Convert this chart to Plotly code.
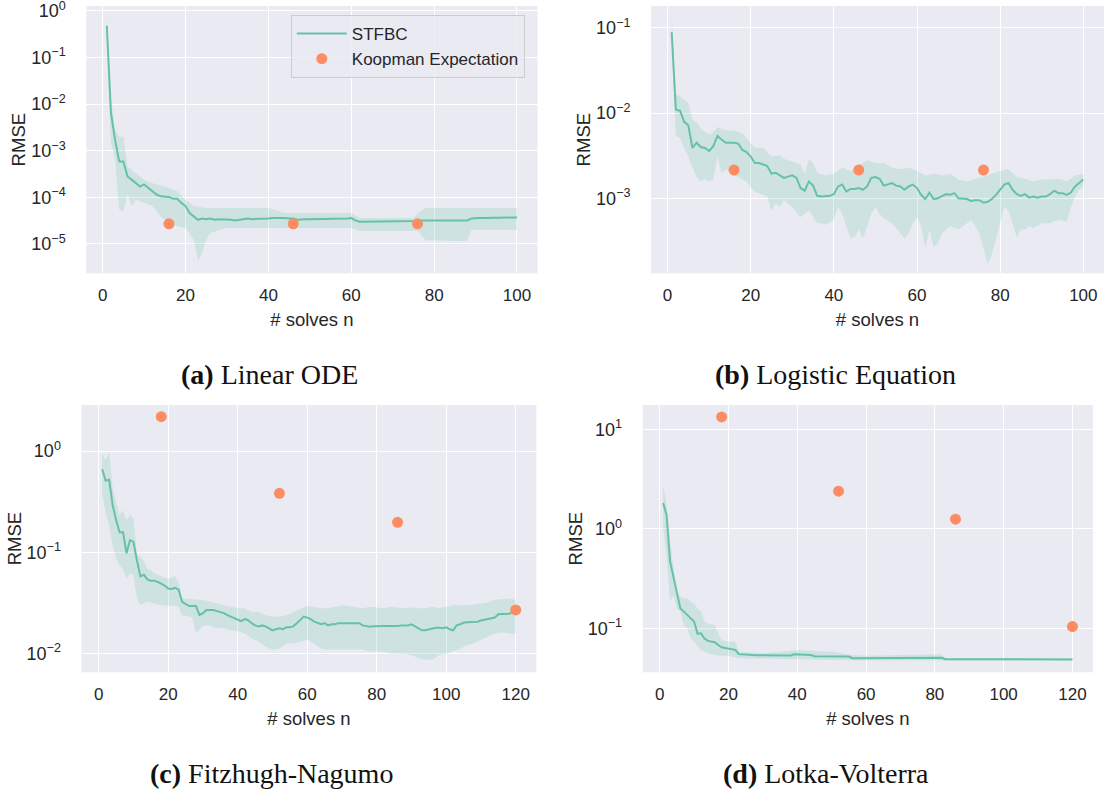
import plotly.graph_objects as go

# ---------------- data ----------------
a_x = list(range(1, 101))
a_line = [0.48, 6.5e-3, 1.7e-3, 5.9e-4, 5.9e-4, 2.8e-4, 2.4e-4, 2.0e-4, 1.7e-4, 1.9e-4,
          1.6e-4, 1.35e-4, 1.15e-4, 1.05e-4, 1.02e-4, 1.02e-4, 9.3e-5, 9.3e-5, 7.6e-5, 6.5e-5,
          4.6e-5, 3.9e-5, 3.3e-5, 3.5e-5, 3.4e-5, 3.5e-5, 3.3e-5, 3.4e-5, 3.4e-5, 3.4e-5,
          3.3e-5, 3.2e-5, 3.3e-5, 3.4e-5, 3.5e-5, 3.4e-5, 3.4e-5, 3.5e-5, 3.5e-5, 3.5e-5,
          3.6e-5, 3.6e-5, 3.7e-5, 3.6e-5, 3.5e-5, 3.5e-5, 3.3e-5, 3.4e-5, 3.4e-5, 3.4e-5,
          3.4e-5, 3.4e-5, 3.4e-5, 3.4e-5, 3.4e-5, 3.4e-5, 3.5e-5, 3.5e-5, 3.5e-5, 3.6e-5,
          3.2e-5, 3.0e-5, 3.0e-5, 3.0e-5, 3.0e-5, 3.1e-5, 3.1e-5, 3.1e-5, 3.0e-5, 3.0e-5,
          3.1e-5, 3.0e-5, 3.0e-5, 3.0e-5, 3.0e-5, 3.1e-5, 3.2e-5, 3.2e-5, 3.2e-5, 3.2e-5,
          3.1e-5, 3.1e-5, 3.1e-5, 3.1e-5, 3.1e-5, 3.1e-5, 3.1e-5, 3.2e-5, 3.5e-5, 3.6e-5,
          3.6e-5, 3.6e-5, 3.6e-5, 3.6e-5, 3.7e-5, 3.7e-5, 3.7e-5, 3.7e-5, 3.7e-5, 3.7e-5]
a_up_x = [1, 2, 3, 4, 5, 6, 8, 10, 12, 15, 18, 20, 22, 25, 30, 35, 40, 44, 50, 55,
          60, 62, 70, 75, 76, 78, 85, 90, 95, 100]
a_up = [0.76, 1.3e-2, 2.8e-3, 2.0e-3, 2.0e-3, 4.6e-4, 3.3e-4, 2.4e-4, 2.0e-4, 1.7e-4,
        1.35e-4, 8.9e-5, 6.5e-5, 5.9e-5, 5.9e-5, 5.9e-5, 5.9e-5, 4.6e-5, 4.6e-5, 4.6e-5,
        4.6e-5, 3.6e-5, 3.6e-5, 3.6e-5, 4.6e-5, 5.9e-5, 5.9e-5, 5.9e-5, 5.9e-5, 5.9e-5]
a_lo_x = [1, 2, 3, 4, 5, 6, 7, 8, 10, 12, 14, 16, 18, 20, 22, 23, 24, 25, 26, 28,
          30, 40, 50, 60, 62, 70, 76, 78, 85, 88, 89, 95, 100]
a_lo = [0.24, 1.45e-3, 6.5e-4, 5.5e-5, 5.0e-5, 1.2e-4, 6.5e-5, 8.9e-5, 7.6e-5, 6.5e-5,
        3.9e-5, 2.8e-5, 2.4e-5, 2.2e-5, 1.23e-5, 4.3e-6, 6.5e-6, 1.23e-5, 1.7e-5, 2.0e-5,
        2.2e-5, 2.2e-5, 2.2e-5, 2.2e-5, 1.9e-5, 1.9e-5, 1.9e-5, 1.2e-5, 1.15e-5, 1.15e-5,
        2.0e-5, 2.0e-5, 2.0e-5]
a_koop_x = [16, 46, 76]
a_koop = [2.7e-5, 2.7e-5, 2.7e-5]

b_x = list(range(1, 101))
b_line = [0.089, 0.011, 0.0107, 0.0079, 0.0072, 0.0039, 0.0045, 0.0040, 0.0039, 0.0036,
          0.0041, 0.0054, 0.0049, 0.0045, 0.0045, 0.0045, 0.0044, 0.0037, 0.0035, 0.0031,
          0.0026, 0.0026, 0.0025, 0.0024, 0.00195, 0.0020, 0.00186, 0.00174, 0.0018, 0.00186,
          0.00174, 0.00132, 0.00123, 0.00158, 0.00141, 0.00107, 0.00105, 0.00105, 0.00107, 0.00112,
          0.00138, 0.00145, 0.0012, 0.00129, 0.00129, 0.00132, 0.00126, 0.00138, 0.00174, 0.00178,
          0.0017, 0.00141, 0.00145, 0.00151, 0.00141, 0.00138, 0.00126, 0.00138, 0.00145, 0.00132,
          0.0011, 0.00098, 0.00117, 0.00098, 0.001, 0.00105, 0.00112, 0.0011, 0.00115, 0.001,
          0.001, 0.00098, 0.00093, 0.00095, 0.00095, 0.00089, 0.00091, 0.00098, 0.0011, 0.00126,
          0.00145, 0.00151, 0.00126, 0.00112, 0.00107, 0.00112, 0.00102, 0.00105, 0.00102, 0.00105,
          0.00105, 0.00112, 0.00123, 0.00115, 0.00115, 0.0011, 0.00117, 0.00138, 0.00151, 0.00166]
b_up_x = [1, 2, 3, 4, 5, 6, 7, 8, 9, 10, 11, 12, 13, 14, 15, 16, 17, 18, 19, 20,
          21, 22, 23, 24, 25, 27, 28, 30, 32, 33, 34, 35, 36, 38, 40, 41, 42, 44, 46, 47,
          48, 50, 52, 54, 56, 58, 60, 62, 64, 66, 68, 70, 72, 74, 76, 78, 80, 82, 84, 86,
          88, 90, 92, 94, 96, 98, 100]
b_up = [0.138, 0.0166, 0.0158, 0.0144, 0.0132, 0.0083, 0.0078, 0.0066, 0.006, 0.0056,
        0.006, 0.0069, 0.0065, 0.0063, 0.0062, 0.0063, 0.006, 0.0058, 0.0051, 0.0045,
        0.0039, 0.0039, 0.0039, 0.0035, 0.0031, 0.0032, 0.0029, 0.0027, 0.0025, 0.00195,
        0.0029, 0.0026, 0.002, 0.00186, 0.00195, 0.0021, 0.0023, 0.0021, 0.0025, 0.0026,
        0.0028, 0.0026, 0.0026, 0.0023, 0.0022, 0.0023, 0.0021, 0.00186, 0.00195, 0.00186,
        0.00195, 0.00166, 0.00158, 0.0017, 0.00178, 0.00195, 0.0021, 0.0022, 0.00178, 0.0017,
        0.00158, 0.00166, 0.00166, 0.0017, 0.00158, 0.00186, 0.00195]
b_lo_x = [1, 2, 3, 4, 5, 6, 7, 8, 9, 10, 11, 12, 13, 14, 15, 16, 17, 18, 19, 20,
          21, 22, 24, 25, 26, 27, 28, 30, 32, 33, 34, 35, 36, 37, 38, 40, 41, 42, 43, 44,
          45, 46, 47, 48, 49, 50, 51, 52, 54, 56, 57, 58, 59, 60, 61, 62, 63, 64, 65, 66,
          67, 68, 70, 72, 73, 74, 75, 76, 77, 78, 79, 80, 81, 82, 83, 84, 85, 86, 87, 88,
          90, 92, 94, 96, 97, 98, 99, 100]
b_lo = [0.07, 0.0054, 0.0051, 0.0039, 0.0031, 0.0023, 0.00178, 0.00158, 0.00166, 0.00158,
        0.00166, 0.0031, 0.00195, 0.0022, 0.0021, 0.00186, 0.00178, 0.00166, 0.00158, 0.00132,
        0.0012, 0.00115, 0.00105, 0.00072, 0.00087, 0.00079, 0.00095, 0.00079, 0.0006, 0.00066,
        0.00072, 0.0006, 0.00051, 0.00051, 0.00049, 0.00056, 0.00079, 0.00066, 0.00047, 0.00034,
        0.00035, 0.00043, 0.00034, 0.00047, 0.00066, 0.00079, 0.00066, 0.00058, 0.00051, 0.00039,
        0.00034, 0.00039, 0.00051, 0.0006, 0.00047, 0.00026, 0.00043, 0.00027, 0.0003, 0.00039,
        0.00043, 0.00047, 0.00043, 0.00051, 0.00056, 0.00047, 0.00039, 0.00025, 0.00017, 0.00022,
        0.00032, 0.00051, 0.00079, 0.00072, 0.00051, 0.00035, 0.00043, 0.00043, 0.00047, 0.00045,
        0.00051, 0.00051, 0.00056, 0.00053, 0.00079, 0.00105, 0.00126, 0.00138]
b_koop_x = [16, 46, 76]
b_koop = [2.15e-3, 2.15e-3, 2.15e-3]

c_x = list(range(1, 121))
c_line = [0.66, 0.51, 0.52, 0.295, 0.21, 0.158, 0.158, 0.098, 0.132, 0.127,
          0.083, 0.058, 0.060, 0.054, 0.0525, 0.0525, 0.051, 0.049, 0.047, 0.044,
          0.0435, 0.0447, 0.0427, 0.0324, 0.031, 0.0295, 0.0295, 0.0295, 0.024, 0.0251,
          0.0269, 0.0268, 0.0269, 0.0263, 0.0257, 0.0251, 0.024, 0.0232, 0.0224, 0.0214,
          0.0209, 0.0219, 0.0214, 0.020, 0.019, 0.0186, 0.019, 0.0186, 0.0178, 0.017,
          0.0174, 0.0178, 0.0174, 0.0182, 0.0182, 0.0186, 0.020, 0.0214, 0.0232, 0.0227,
          0.0219, 0.0207, 0.020, 0.0195, 0.020, 0.019, 0.0195, 0.0195, 0.020, 0.020,
          0.0201, 0.0202, 0.020, 0.0199, 0.020, 0.019, 0.0186, 0.0184, 0.0186, 0.0187,
          0.0187, 0.0186, 0.0187, 0.0187, 0.0186, 0.0187, 0.019, 0.019, 0.019, 0.0195,
          0.0185, 0.0178, 0.017, 0.017, 0.0174, 0.0178, 0.018, 0.018, 0.0178, 0.0182,
          0.0174, 0.017, 0.019, 0.0195, 0.0202, 0.0204, 0.0204, 0.0207, 0.0207, 0.0212,
          0.0215, 0.0219, 0.022, 0.0227, 0.0245, 0.0246, 0.0248, 0.0248, 0.0254, 0.0257]
c_up_x = [1, 2, 3, 4, 5, 6, 7, 8, 9, 10, 11, 12, 13, 14, 15, 16, 18, 20, 22, 23,
          24, 26, 28, 30, 32, 34, 36, 38, 40, 42, 44, 46, 48, 50, 52, 54, 56, 58, 60, 62,
          64, 66, 68, 70, 72, 74, 76, 78, 80, 82, 84, 86, 88, 90, 92, 94, 96, 98, 100, 102,
          104, 106, 108, 110, 112, 114, 116, 118, 120]
c_up = [0.95, 0.81, 0.97, 0.43, 0.316, 0.234, 0.26, 0.209, 0.234, 0.218,
        0.094, 0.091, 0.081, 0.069, 0.067, 0.062, 0.058, 0.055, 0.058, 0.051,
        0.035, 0.035, 0.034, 0.034, 0.0325, 0.0315, 0.030, 0.029, 0.028, 0.028,
        0.0258, 0.0258, 0.024, 0.0232, 0.0232, 0.024, 0.0258, 0.028, 0.0296, 0.029,
        0.028, 0.028, 0.029, 0.030, 0.0296, 0.029, 0.028, 0.029, 0.0285, 0.028,
        0.029, 0.0285, 0.028, 0.0285, 0.028, 0.028, 0.029, 0.028, 0.029, 0.030,
        0.030, 0.030, 0.0306, 0.0315, 0.032, 0.034, 0.0347, 0.035, 0.034]
c_lo_x = [1, 2, 3, 4, 5, 6, 7, 8, 9, 10, 11, 12, 13, 14, 16, 18, 20, 22, 23, 24,
          26, 27, 28, 30, 32, 34, 36, 38, 40, 42, 44, 46, 48, 50, 52, 54, 56, 58, 60, 62,
          64, 66, 68, 70, 72, 74, 76, 78, 80, 82, 84, 86, 88, 90, 92, 94, 96, 98, 100, 102,
          104, 106, 108, 110, 112, 114, 116, 118, 120]
c_lo = [0.38, 0.243, 0.186, 0.118, 0.087, 0.075, 0.067, 0.055, 0.062, 0.060,
        0.035, 0.030, 0.0315, 0.0325, 0.0315, 0.030, 0.0296, 0.030, 0.029, 0.024,
        0.0232, 0.0224, 0.0158, 0.019, 0.019, 0.0178, 0.0178, 0.017, 0.0166, 0.0158,
        0.0141, 0.0132, 0.0117, 0.011, 0.0112, 0.0126, 0.0126, 0.0132, 0.0137, 0.0126,
        0.0112, 0.011, 0.011, 0.011, 0.011, 0.011, 0.011, 0.0105, 0.0105, 0.0105,
        0.010, 0.010, 0.010, 0.0097, 0.0090, 0.0087, 0.0087, 0.0097, 0.010, 0.0105,
        0.0112, 0.0122, 0.0126, 0.0137, 0.0148, 0.0158, 0.0162, 0.0158, 0.0155]
c_koop_x = [18, 52, 86, 120]
c_koop = [2.18, 0.382, 0.198, 0.027]

d_x = list(range(1, 121))
d_line = [1.82, 1.37, 0.47, 0.33, 0.234, 0.158, 0.148, 0.135, 0.126, 0.117,
          0.088, 0.089, 0.079, 0.0747, 0.0737, 0.0725, 0.068, 0.0645, 0.0635, 0.0625,
          0.0625, 0.0607, 0.055, 0.0545, 0.054, 0.054, 0.0538, 0.0536, 0.0535, 0.0535,
          0.0535, 0.0536, 0.0535, 0.0534, 0.0533, 0.0533, 0.0532, 0.0532, 0.0548, 0.0545,
          0.0543, 0.054, 0.054, 0.0538, 0.0525, 0.0525, 0.0526, 0.0527, 0.0527, 0.0526,
          0.0525, 0.0525, 0.0524, 0.0522, 0.052, 0.050, 0.050, 0.050, 0.050, 0.050,
          0.0499, 0.0499, 0.050, 0.050, 0.050, 0.0505, 0.0505, 0.0506, 0.0506, 0.0505,
          0.0505, 0.0505, 0.0503, 0.0503, 0.0504, 0.0505, 0.0505, 0.0505, 0.0505, 0.0505,
          0.0505, 0.0505, 0.049, 0.049, 0.049, 0.049, 0.049, 0.049, 0.049, 0.049,
          0.049, 0.049, 0.049, 0.049, 0.049, 0.049, 0.049, 0.049, 0.049, 0.049,
          0.049, 0.049, 0.049, 0.049, 0.049, 0.049, 0.049, 0.049, 0.049, 0.049,
          0.049, 0.049, 0.049, 0.049, 0.049, 0.0492, 0.0492, 0.049, 0.049, 0.0487]
d_up_x = [1, 2, 3, 4, 5, 6, 7, 8, 9, 10, 11, 12, 13, 14, 16, 17, 18, 20, 22, 23,
          30, 40, 50, 56, 60, 70, 82, 83, 100, 120]
d_up = [2.7, 1.73, 0.74, 0.40, 0.234, 0.209, 0.20, 0.20, 0.186, 0.178,
        0.158, 0.148, 0.117, 0.112, 0.107, 0.09, 0.0764, 0.0735, 0.0735, 0.0583,
        0.0562, 0.0607, 0.0583, 0.054, 0.053, 0.054, 0.0548, 0.050, 0.050, 0.050]
d_lo_x = [1, 2, 3, 4, 5, 6, 7, 8, 9, 10, 11, 12, 14, 16, 18, 20, 23, 40, 60, 120]
d_lo = [1.0, 0.545, 0.186, 0.216, 0.158, 0.148, 0.107, 0.10, 0.079, 0.0735,
        0.0655, 0.0607, 0.0562, 0.054, 0.053, 0.053, 0.050, 0.049, 0.0474, 0.0474]
d_koop_x = [18, 52, 86, 120]
d_koop = [13.3, 2.39, 1.25, 0.104]

x_ticks_100 = [0, 20, 40, 60, 80, 100]
x_ticks_120 = [0, 20, 40, 60, 80, 100, 120]
a_yticks = [1e-5, 1e-4, 1e-3, 1e-2, 1e-1, 1.0]
a_ylabels = ["10<sup>−5</sup>", "10<sup>−4</sup>", "10<sup>−3</sup>", "10<sup>−2</sup>",
             "10<sup>−1</sup>", "10<sup>0</sup>"]
b_yticks = [1e-3, 1e-2, 1e-1]
b_ylabels = ["10<sup>−3</sup>", "10<sup>−2</sup>", "10<sup>−1</sup>"]
c_yticks = [1e-2, 1e-1, 1.0]
c_ylabels = ["10<sup>−2</sup>", "10<sup>−1</sup>", "10<sup>0</sup>"]
d_yticks = [1e-1, 1.0, 10.0]
d_ylabels = ["10<sup>−1</sup>", "10<sup>0</sup>", "10<sup>1</sup>"]

captions = ["<b>(a)</b> Linear ODE", "<b>(b)</b> Logistic Equation",
            "<b>(c)</b> Fitzhugh-Nagumo", "<b>(d)</b> Lotka-Volterra"]
series_names = ["STFBC", "Koopman Expectation"]

# ---------------- style ----------------
GREEN = "#66c2a5"
ORANGE = "#fc8d62"
BAND = "rgba(102,194,165,0.2)"
TEXT = "#262626"
BG = "#eaeaf2"
SANS = "Liberation Sans, Arial, sans-serif"
SERIF = "Liberation Serif, Times New Roman, serif"
FS_TICK = 17
FS_YTICK = 18
FS_LABEL = 18.5
W, H = 1105, 792

for ux, uy, lx, ly in [(a_up_x, a_up, a_lo_x, a_lo), (b_up_x, b_up, b_lo_x, b_lo),
                       (c_up_x, c_up, c_lo_x, c_lo), (d_up_x, d_up, d_lo_x, d_lo)]:
    assert len(ux) == len(uy) and len(lx) == len(ly)
assert len(a_line) == 100 and len(b_line) == 100 and len(c_line) == 120 and len(d_line) == 120

panels = [
    dict(x=a_x, line=a_line, ux=a_up_x, uy=a_up, lx=a_lo_x, ly=a_lo, kx=a_koop_x, ky=a_koop,
         px=(86.3, 537.5), py=(6, 273.3), xr=[-3.95, 104.95], yr=[-5.63, 0.107],
         xt=x_ticks_100, yt=a_yticks, yl=a_ylabels),
    dict(x=b_x, line=b_line, ux=b_up_x, uy=b_up, lx=b_lo_x, ly=b_lo, kx=b_koop_x, ky=b_koop,
         px=(651.1, 1103.9), py=(6, 273.3), xr=[-3.95, 104.95], yr=[-3.88, -0.742],
         xt=x_ticks_100, yt=b_yticks, yl=b_ylabels),
    dict(x=c_x, line=c_line, ux=c_up_x, uy=c_up, lx=c_lo_x, ly=c_lo, kx=c_koop_x, ky=c_koop,
         px=(81.5, 536.4), py=(405, 672.3), xr=[-4.95, 125.95], yr=[-2.184, 0.454],
         xt=x_ticks_120, yt=c_yticks, yl=c_ylabels),
    dict(x=d_x, line=d_line, ux=d_up_x, uy=d_up, lx=d_lo_x, ly=d_lo, kx=d_koop_x, ky=d_koop,
         px=(642.7, 1092.9), py=(405, 672.3), xr=[-4.95, 125.95], yr=[-1.442, 1.244],
         xt=x_ticks_120, yt=d_yticks, yl=d_ylabels),
]
caption_pos = [(269, 374.5), (835, 374.5), (271, 773), (826, 773)]

fig = go.Figure()
layout = {}
for i, p in enumerate(panels):
    suf = "" if i == 0 else str(i + 1)
    xa, ya = "x" + suf, "y" + suf
    fig.add_trace(go.Scatter(
        x=p["ux"] + p["lx"][::-1], y=p["uy"] + p["ly"][::-1],
        fill="toself", fillcolor=BAND, line=dict(width=0), mode="lines",
        showlegend=False, hoverinfo="skip", xaxis=xa, yaxis=ya))
    fig.add_trace(go.Scatter(
        x=p["x"], y=p["line"], mode="lines", line=dict(color=GREEN, width=2),
        name=series_names[0], showlegend=(i == 0), xaxis=xa, yaxis=ya))
    fig.add_trace(go.Scatter(
        x=p["kx"], y=p["ky"], mode="markers", marker=dict(color=ORANGE, size=11),
        name=series_names[1], showlegend=(i == 0), xaxis=xa, yaxis=ya))

    layout["xaxis" + suf] = dict(
        domain=[p["px"][0] / W, p["px"][1] / W], anchor=ya, range=p["xr"],
        tickmode="array", tickvals=p["xt"], showgrid=True, gridcolor="white", gridwidth=1.3,
        zeroline=False, showline=False, ticks="outside", ticklen=6, tickcolor="rgba(0,0,0,0)",
        ticklabeloverflow="allow", automargin=False,
        tickfont=dict(family=SANS, size=FS_TICK, color=TEXT),
        title=dict(text="# solves n", font=dict(family=SANS, size=FS_LABEL, color=TEXT),
                   standoff=9))
    layout["yaxis" + suf] = dict(
        domain=[1 - p["py"][1] / H, 1 - p["py"][0] / H], anchor=xa, type="log", range=p["yr"],
        tickmode="array", tickvals=p["yt"], ticktext=p["yl"], showgrid=True, gridcolor="white",
        gridwidth=1.3, zeroline=False, showline=False, ticks="outside", ticklen=16,
        tickcolor="rgba(0,0,0,0)", ticklabeloverflow="allow", automargin=False,
        tickfont=dict(family=SANS, size=FS_YTICK, color=TEXT),
        title=dict(text="RMSE", font=dict(family=SANS, size=FS_LABEL, color=TEXT), standoff=0))

annotations = []
for cap, (cx, cy) in zip(captions, caption_pos):
    annotations.append(dict(text=cap, x=cx / W, y=1 - cy / H, xref="paper", yref="paper",
                            xanchor="center", yanchor="middle", showarrow=False,
                            font=dict(family=SERIF, size=28, color="#111111")))

fig.update_layout(
    width=W, height=H, autosize=False, margin=dict(l=0, r=0, t=0, b=0),
    paper_bgcolor="white", plot_bgcolor=BG,
    font=dict(family=SANS, size=FS_TICK, color=TEXT),
    legend=dict(x=290.8 / W, y=1 - 15 / H, xanchor="left", yanchor="top",
                bgcolor="rgba(234,234,242,0.8)", bordercolor="#cccccc", borderwidth=1,
                font=dict(family=SANS, size=FS_TICK, color=TEXT), tracegroupgap=2,
                itemwidth=50),
    annotations=annotations, **layout)

fig.write_html("out.html", config={"displayModeBar": False},
               post_script="document.body.style.margin='0px';document.body.style.padding='0px';")
